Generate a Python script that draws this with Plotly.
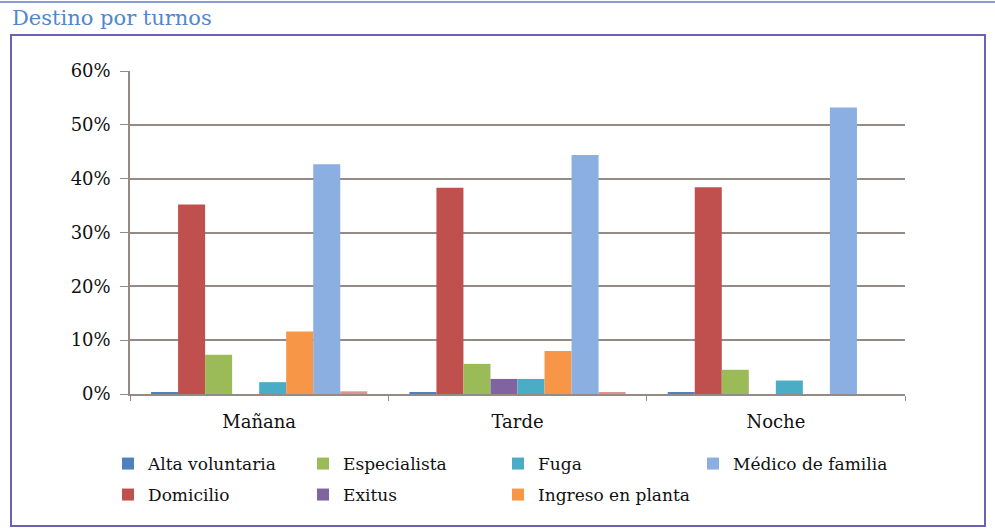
import plotly.graph_objects as go

# ---------------- data ----------------
turnos = ["Mañana", "Tarde", "Noche"]
series_names = ["Alta voluntaria", "Domicilio", "Especialista", "Exitus",
                "Fuga", "Ingreso en planta", "Médico de familia", "Otros"]
alta_voluntaria = [0.002, 0.002, 0.002]
domicilio = [0.352, 0.383, 0.384]
especialista = [0.073, 0.056, 0.045]
exitus = [0.0, 0.028, 0.0]
fuga = [0.022, 0.028, 0.025]
ingreso_planta = [0.116, 0.080, 0.0]
medico_familia = [0.427, 0.444, 0.532]
otros = [0.005, 0.002, 0.0]
y_ticks = [0, 0.1, 0.2, 0.3, 0.4, 0.5, 0.6]

values = [alta_voluntaria, domicilio, especialista, exitus, fuga,
          ingreso_planta, medico_familia, otros]
colors = ["#4F81BD", "#C0504D", "#9BBB59", "#8064A2", "#4BACC6",
          "#F79646", "#8AAFE0", "#D99694"]
legend_rank = [1, 1, 2, 2, 3, 3, 4, 9]
legend_row = ["legend", "legend2", "legend", "legend2", "legend",
              "legend2", "legend", "legend2"]
show_leg = [True] * 7 + [False]

# ---------------- layout geometry ----------------
W, H = 995, 530
L, R, T, B = 130, 90, 71, 136
PW, PH = W - L - R, H - T - B


def px2x(px):
    return (px - L) / PW


def px2y(py):
    return (H - B - py) / PH


FONT = "DejaVu Serif"
GRID = "#968A84"

fig = go.Figure()
for name, vals, col, rk, lg, sl in zip(series_names, values, colors,
                                       legend_rank, legend_row, show_leg):
    fig.add_trace(go.Bar(
        x=turnos, y=vals, name=name, marker_color=col,
        marker_line_width=0, legendrank=rk, legend=lg, showlegend=sl,
    ))

legend_common = dict(orientation="h", xanchor="left", yanchor="top",
                     font=dict(family=FONT, size=17, color="#111111"),
                     entrywidth=150, entrywidthmode="pixels",
                     traceorder="normal", bgcolor="rgba(0,0,0,0)")

fig.update_layout(
    width=W, height=H,
    margin=dict(l=L, r=R, t=T, b=B),
    paper_bgcolor="white", plot_bgcolor="white",
    barmode="group", bargap=0.163, bargroupgap=0,
    font=dict(family=FONT, size=17, color="#111111"),
    title=dict(text="Destino por turnos", xref="container", yref="container",
               x=12 / W, xanchor="left", y=1 - 18 / H, yanchor="middle",
               font=dict(family=FONT, size=21, color="#5087CF")),
    legend=dict(x=px2x(108), y=px2y(446), **legend_common),
    legend2=dict(x=px2x(108), y=px2y(477), **legend_common),
    xaxis=dict(showgrid=False, showline=True, linecolor=GRID, linewidth=1.5,
               ticks="outside", tickson="boundaries", ticklen=5,
               tickcolor=GRID, tickfont=dict(size=18), ticklabelstandoff=11),
    yaxis=dict(range=[0, 0.6], tickvals=y_ticks, tickformat=".0%",
               showgrid=True, gridcolor=GRID, gridwidth=1.5,
               showline=True, linecolor=GRID, linewidth=1.5,
               ticks="outside", ticklen=8, tickcolor=GRID,
               tickfont=dict(size=18), zeroline=False, ticklabelstandoff=6),
    shapes=[
        dict(type="rect", xref="paper", yref="paper",
             x0=px2x(11), x1=px2x(985), y0=px2y(526), y1=px2y(35),
             line=dict(color="#6A62B0", width=2), layer="below"),
        dict(type="line", xref="paper", yref="paper",
             x0=px2x(0), x1=px2x(995), y0=px2y(2), y1=px2y(2),
             line=dict(color="#8A9AD4", width=2), layer="below"),
    ],
)

fig.write_html("out.html",
               config={"displayModeBar": False},
               post_script="document.body.style.margin='0';"
                           "document.body.style.overflow='hidden';")
